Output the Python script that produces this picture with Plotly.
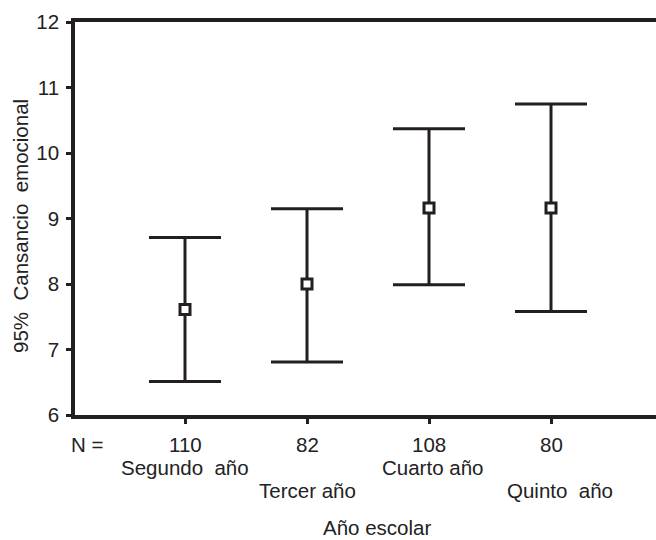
import plotly.graph_objects as go

# Data
categories = ["Segundo  año", "Tercer año", "Cuarto año", "Quinto  año"]
n_values = [110, 82, 108, 80]
means = [7.61, 8.00, 9.16, 9.16]
lower = [6.51, 6.81, 7.99, 7.58]
upper = [8.71, 9.15, 10.37, 10.75]
y_ticks = [6, 7, 8, 9, 10, 11, 12]

positions = list(range(1, len(categories) + 1))
err_plus = [u - m for u, m in zip(upper, means)]
err_minus = [m - l for m, l in zip(means, lower)]

INK = "#231f20"
TXT = "#222222"
FONT = "Liberation Sans, Arial, sans-serif"
FS = 20.5

fig = go.Figure()
fig.add_trace(go.Scatter(
    x=positions, y=means, mode="markers",
    marker=dict(symbol="square", size=10, color="white",
                line=dict(color=INK, width=3)),
    error_y=dict(type="data", symmetric=False, array=err_plus,
                 arrayminus=err_minus, color=INK, thickness=3, width=36),
    showlegend=False, hoverinfo="skip",
))

W, H = 656, 540
L, R, T, B = 75, 0, 22, 125
plot_w = W - L - R
plot_h = H - T - B
x0 = 1 - 110 / 122
x1 = x0 + plot_w / 122


def py(pix):
    return (H - B - pix) / plot_h


annotations = []
annotations.append(dict(text="N =", xref="paper", yref="paper",
                        x=(87 - L) / plot_w, y=py(445), showarrow=False,
                        xanchor="center", yanchor="middle"))
shifts = [0, 0, 3, 9]
for i, (p, n, c) in enumerate(zip(positions, n_values, categories)):
    annotations.append(dict(text=str(n), xref="x", yref="paper", x=p, y=py(445),
                            showarrow=False, xanchor="center", yanchor="middle"))
    row_y = py(467) if i % 2 == 0 else py(490)
    annotations.append(dict(text=c, xref="x", yref="paper", x=p, y=row_y,
                            xshift=shifts[i], showarrow=False,
                            xanchor="center", yanchor="middle"))
annotations.append(dict(text="Año escolar", xref="paper", yref="paper",
                        x=(377 - L) / plot_w, y=py(539.5), showarrow=False,
                        xanchor="center", yanchor="bottom", borderpad=0))
annotations.append(dict(text="95%  Cansancio  emocional", xref="paper", yref="paper",
                        x=(20 - L) / plot_w, y=py(226), textangle=-90,
                        showarrow=False, xanchor="center", yanchor="middle"))

fig.update_layout(
    width=W, height=H,
    margin=dict(l=L, r=R, t=T, b=B, pad=0),
    paper_bgcolor="white", plot_bgcolor="white",
    font=dict(family=FONT, size=FS, color=TXT),
    xaxis=dict(range=[x0, x1], tickvals=positions, showticklabels=False,
               ticks="outside", ticklen=5, tickwidth=3, tickcolor=INK,
               showline=True, linecolor=INK, linewidth=3.5, mirror=True,
               showgrid=False, zeroline=False, fixedrange=True),
    yaxis=dict(range=[6, 12], tickvals=y_ticks, ticks="outside", ticklen=5,
               tickwidth=3, tickcolor=INK, showline=True, linecolor=INK,
               linewidth=3.5, mirror=False, showgrid=False, zeroline=False,
               tickfont=dict(family=FONT, size=FS, color=TXT),
               ticklabelstandoff=3, fixedrange=True),
    annotations=annotations,
)

fig.write_html("out.html")
